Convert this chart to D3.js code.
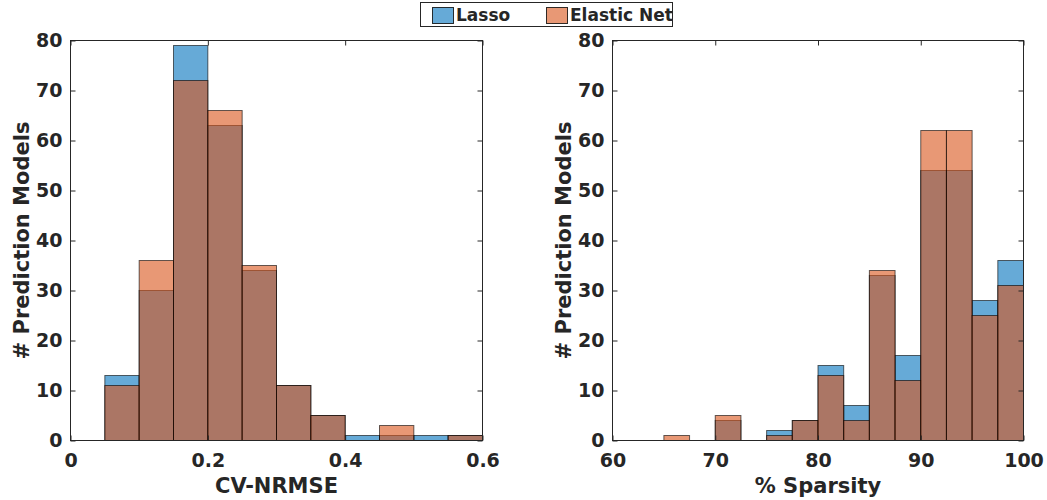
<!DOCTYPE html>
<html>
<head>
<meta charset="utf-8">
<script src="https://cdn.jsdelivr.net/npm/d3@7"></script>
<style>
  body { margin: 0; background: #fff; }
  text { font-family: "DejaVu Sans", sans-serif; font-weight: bold; fill: #262626; }
</style>
</head>
<body>
<div id="chart"></div>
<script>
// bin edges and counts
const nrmseEdges = [0.05, 0.1, 0.15, 0.2, 0.25, 0.3, 0.35, 0.4, 0.45, 0.5, 0.55, 0.6];
const nrmseLasso = [13, 30, 79, 63, 34, 11, 5, 1, 1, 1, 1];
const nrmseElastic = [11, 36, 72, 66, 35, 11, 5, 0, 3, 0, 1];

const sparsityEdges = [65, 67.5, 70, 72.5, 75, 77.5, 80, 82.5, 85, 87.5, 90, 92.5, 95, 97.5, 100];
const sparsityLasso = [0, 0, 4, 0, 2, 4, 15, 7, 33, 17, 54, 54, 28, 36];
const sparsityElastic = [1, 0, 5, 0, 1, 4, 13, 4, 34, 12, 62, 62, 25, 31];

const yTicks = [0, 10, 20, 30, 40, 50, 60, 70, 80];
const nrmseTicks = [0, 0.2, 0.4, 0.6];
const sparsityTicks = [60, 70, 80, 90, 100];

const seriesNames = ["Lasso", "Elastic Net"];
const seriesColors = ["#0072BD", "#D95319"];

const W = 1047, H = 500;
const svg = d3.select("#chart").append("svg")
  .attr("width", W)
  .attr("height", H);

const plotTop = 40.5, plotBottom = 440.5;

const panel = (left, right, xDomain, xTicks, xFmt, edges, lasso, elastic, xLabel) => {
  let x = d3.scaleLinear().domain(xDomain).range([left, right]);
  let y = d3.scaleLinear().domain([0, 80]).range([plotBottom, plotTop]);
  let g = svg.append("g");

  [lasso, elastic].forEach((counts, s) => {
    let bins = counts
      .map((c, i) => ({ c: c, x0: edges[i], x1: edges[i + 1] }))
      .filter(b => b.c > 0);
    g.selectAll(null)
      .data(bins)
      .enter()
      .append("rect")
      .attr("x", b => x(b.x0))
      .attr("y", b => y(b.c))
      .attr("width", b => x(b.x1) - x(b.x0))
      .attr("height", b => y(0) - y(b.c))
      .attr("fill", seriesColors[s])
      .attr("fill-opacity", 0.6)
      .attr("stroke", "#000")
      .attr("stroke-opacity", 0.6)
      .attr("stroke-width", 1);
  });

  // box
  g.append("rect")
    .attr("x", left).attr("y", plotTop)
    .attr("width", right - left).attr("height", plotBottom - plotTop)
    .attr("fill", "none").attr("stroke", "#262626").attr("stroke-width", 1);

  let tl = 5;
  g.append("g").attr("transform", `translate(0,${plotBottom})`)
    .call(d3.axisBottom(x).tickValues(xTicks).tickSize(-tl).tickPadding(13).tickFormat(xFmt))
    .call(a => a.select(".domain").remove());
  g.append("g").attr("transform", `translate(0,${plotTop})`)
    .call(d3.axisTop(x).tickValues(xTicks).tickSize(-tl).tickFormat(""))
    .call(a => a.select(".domain").remove());
  g.append("g").attr("transform", `translate(${left},0)`)
    .call(d3.axisLeft(y).tickValues(yTicks).tickSize(-tl).tickPadding(8))
    .call(a => a.select(".domain").remove());
  g.append("g").attr("transform", `translate(${right},0)`)
    .call(d3.axisRight(y).tickValues(yTicks).tickSize(-tl).tickFormat(""))
    .call(a => a.select(".domain").remove());

  g.selectAll(".tick line").attr("stroke", "#262626");
  g.selectAll(".tick text")
    .attr("font-family", "DejaVu Sans, sans-serif")
    .attr("font-weight", "bold")
    .attr("font-size", 19)
    .attr("fill", "#262626");

  g.append("text")
    .attr("x", (left + right) / 2)
    .attr("y", 493)
    .attr("text-anchor", "middle")
    .attr("font-size", 21)
    .text(xLabel);

  g.append("text")
    .attr("transform", `translate(${left - 42},${(plotTop + plotBottom) / 2}) rotate(-90)`)
    .attr("text-anchor", "middle")
    .attr("font-size", 21)
    .text("# Prediction Models");
};

panel(70.5, 482.5, [0, 0.6], nrmseTicks, d => d === 0 ? "0" : d3.format(".1f")(d),
  nrmseEdges, nrmseLasso, nrmseElastic, "CV-NRMSE");
panel(612.5, 1023.5, [60, 100], sparsityTicks, d => d,
  sparsityEdges, sparsityLasso, sparsityElastic, "% Sparsity");

// legend
const leg = svg.append("g");
leg.append("rect")
  .attr("x", 420.5).attr("y", 2.5).attr("width", 252).attr("height", 24)
  .attr("fill", "#fff").attr("stroke", "#262626").attr("stroke-width", 1);
const legX = [432, 546];
seriesNames.forEach((name, i) => {
  leg.append("rect")
    .attr("x", legX[i] + 0.5).attr("y", 7.5).attr("width", 21).attr("height", 16)
    .attr("fill", seriesColors[i]).attr("fill-opacity", 0.6)
    .attr("stroke", "#000").attr("stroke-opacity", 0.8);
  leg.append("text")
    .attr("x", legX[i] + 24).attr("y", 21)
    .attr("font-size", 17)
    .text(name);
});
</script>
</body>
</html>
